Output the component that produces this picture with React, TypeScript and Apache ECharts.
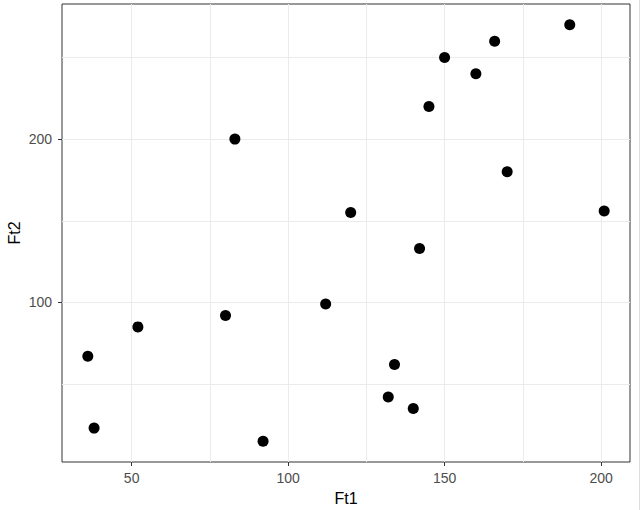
import React, { useEffect, useRef } from "react";
import * as echarts from "echarts";

const ft1 = [83, 190, 166, 150, 160, 145, 170, 120, 201, 142, 112, 80, 52, 36, 134, 132, 140, 38, 92];
const ft2 = [200, 270, 260, 250, 240, 220, 180, 155, 156, 133, 99, 92, 85, 67, 62, 42, 35, 23, 15];
const xTicks = [50, 100, 150, 200];
const yTicks = [100, 200];
const xMinor = [75, 125, 175];
const yMinor = [50, 150, 250];

function expand(vals: number[]): [number, number] {
  const lo = Math.min(...vals);
  const hi = Math.max(...vals);
  const d = (hi - lo) * 0.05;
  return [lo - d, hi + d];
}

const FONT = "'Liberation Sans', Arial, sans-serif";

export default function App() {
  const ref = useRef<HTMLDivElement>(null);
  useEffect(() => {
    if (!ref.current) return;
    const chart = echarts.init(ref.current, undefined, { renderer: "svg" });
    const [xMin, xMax] = expand(ft1);
    const [yMin, yMax] = expand(ft2);
    const gridLines = [
      ...xTicks.map((v) => ({ xAxis: v })),
      ...xMinor.map((v) => ({ xAxis: v })),
      ...yTicks.map((v) => ({ yAxis: v })),
      ...yMinor.map((v) => ({ yAxis: v })),
    ];
    chart.setOption({
      animation: false,
      backgroundColor: "#ffffff",
      grid: {
        left: 62,
        right: 11,
        top: 4,
        bottom: 48,
        containLabel: false,
        outerBoundsMode: "none",
        show: true,
        borderColor: "#333333",
        borderWidth: 1,
        backgroundColor: "transparent",
      },
      xAxis: {
        type: "value",
        min: xMin,
        max: xMax,
        name: "Ft1",
        nameLocation: "middle",
        nameGap: 28,
        nameMoveOverlap: false,
        nameTextStyle: { fontSize: 16, color: "#000000", fontFamily: FONT },
        axisLine: { show: false },
        splitLine: { show: false },
        axisTick: {
          show: true,
          customValues: xTicks,
          length: 4,
          lineStyle: { color: "#333333", width: 1 },
        },
        axisLabel: {
          customValues: xTicks,
          color: "#4D4D4D",
          fontSize: 14,
          fontFamily: FONT,
          margin: 9,
        },
      },
      yAxis: {
        type: "value",
        min: yMin,
        max: yMax,
        name: "Ft2",
        nameLocation: "middle",
        nameGap: 40,
        nameMoveOverlap: false,
        nameTextStyle: { fontSize: 16, color: "#000000", fontFamily: FONT },
        axisLine: { show: false },
        splitLine: { show: false },
        axisTick: {
          show: true,
          customValues: yTicks,
          length: 4,
          lineStyle: { color: "#333333", width: 1 },
        },
        axisLabel: {
          customValues: yTicks,
          color: "#4D4D4D",
          fontSize: 14,
          fontFamily: FONT,
          margin: 10,
        },
      },
      graphic: [
        {
          type: "line",
          shape: { x1: 639.5, y1: 0, x2: 639.5, y2: 510 },
          style: { stroke: "#dcdcdc", lineWidth: 1 },
          silent: true,
        },
      ],
      series: [
        {
          type: "scatter",
          data: [],
          z: 1,
          silent: true,
          markLine: {
            silent: true,
            symbol: ["none", "none"],
            label: { show: false },
            lineStyle: { color: "#EBEBEB", type: "solid", width: 1 },
            emphasis: { disabled: true },
            data: gridLines,
          },
        },
        {
          type: "scatter",
          z: 5,
          symbol: "circle",
          symbolSize: 11,
          itemStyle: { color: "#000000", opacity: 1 },
          data: ft1.map((x, i) => [x, ft2[i]]),
        },
      ],
    });
    return () => chart.dispose();
  }, []);
  return (
    <div
      ref={ref}
      style={{ position: "fixed", left: 0, top: 0, width: 641, height: 510 }}
    />
  );
}
